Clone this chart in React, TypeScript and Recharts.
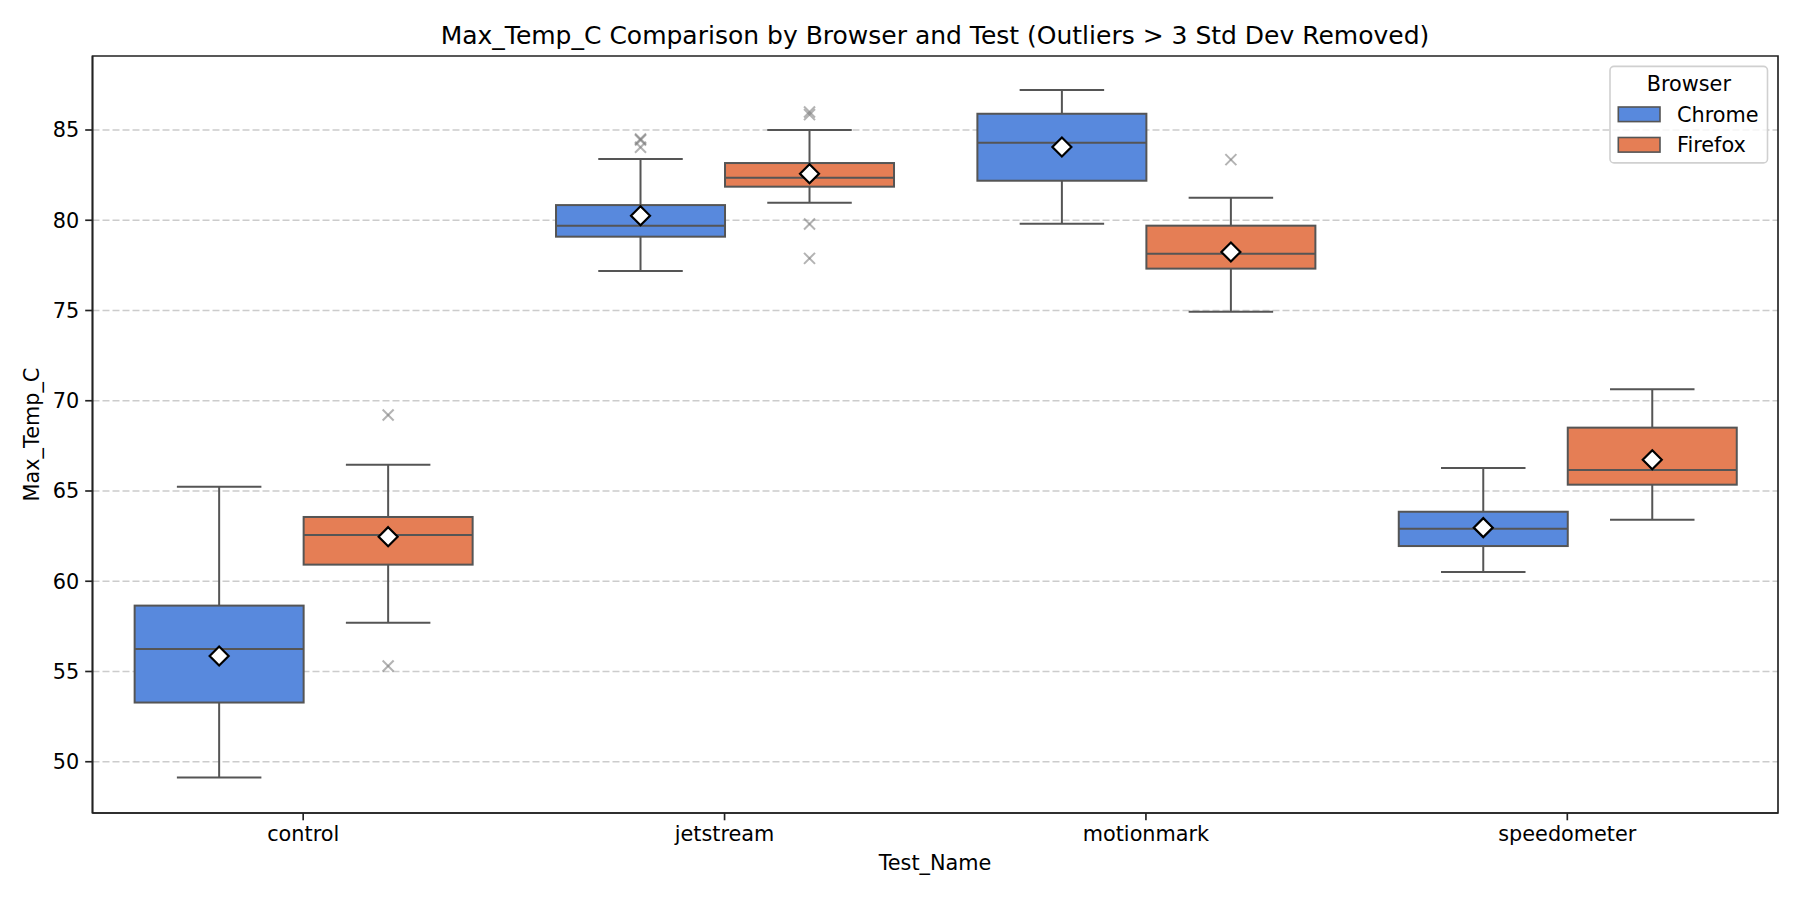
import React from 'react';
import { ComposedChart, Bar, XAxis, YAxis, CartesianGrid, ReferenceArea } from 'recharts';

const tests = ['control', 'jetstream', 'motionmark', 'speedometer'];
const browsers = ['Chrome', 'Firefox'];
const browserColors = ['#5889DD', '#E57E55'];

const chromeLow = [49.12, 77.19, 79.81, 60.51];
const chromeQ1 = [53.28, 79.09, 82.19, 61.95];
const chromeMedian = [56.25, 79.7, 84.3, 62.91];
const chromeQ3 = [58.65, 80.84, 85.9, 63.85];
const chromeHigh = [65.24, 83.39, 87.22, 66.27];
const chromeMean = [55.86, 80.25, 84.06, 62.97];
const chromeOutliers = [[], [84.5, 84.45, 84.04], [], []];

const firefoxLow = [57.7, 80.97, 74.93, 63.41];
const firefoxQ1 = [60.92, 81.86, 77.32, 65.35];
const firefoxMedian = [62.56, 82.36, 78.15, 66.16];
const firefoxQ3 = [63.56, 83.17, 79.7, 68.51];
const firefoxHigh = [66.46, 85.0, 81.25, 70.64];
const firefoxMean = [62.47, 82.58, 78.24, 66.73];
const firefoxOutliers = [[69.21, 55.3], [86.0, 85.85, 79.79, 77.89], [83.36], []];

const yTicks = [50, 55, 60, 65, 70, 75, 80, 85];
const yDomain = [47.16, 89.1];

const data = tests.map((t, i) => ({
  test: t,
  chrome: {
    lo: chromeLow[i], q1: chromeQ1[i], med: chromeMedian[i], q3: chromeQ3[i],
    hi: chromeHigh[i], mean: chromeMean[i], out: chromeOutliers[i],
  },
  firefox: {
    lo: firefoxLow[i], q1: firefoxQ1[i], med: firefoxMedian[i], q3: firefoxQ3[i],
    hi: firefoxHigh[i], mean: firefoxMean[i], out: firefoxOutliers[i],
  },
}));

const EDGE = '#555555';
const FONT = 'DejaVu Sans';
const FS = 20.8;

const makeBoxShape = (key: string, color: string) => (props: any) => {
  const { x, y, width, height, payload } = props;
  const s = payload[key];
  const top = Math.min(y, y + height);
  const bottom = Math.max(y, y + height);
  const px = (v: number) => bottom - ((bottom - top) * (v - s.lo)) / (s.hi - s.lo);
  const cx = x + width / 2;
  const capHalf = width / 4;
  const yq1 = px(s.q1);
  const yq3 = px(s.q3);
  const ym = px(s.mean);
  const d = 9.5;
  return (
    <g>
      <line x1={cx} x2={cx} y1={px(s.hi)} y2={yq3} stroke={EDGE} strokeWidth={2} />
      <line x1={cx} x2={cx} y1={yq1} y2={px(s.lo)} stroke={EDGE} strokeWidth={2} />
      <line x1={cx - capHalf} x2={cx + capHalf} y1={px(s.hi)} y2={px(s.hi)} stroke={EDGE} strokeWidth={2} />
      <line x1={cx - capHalf} x2={cx + capHalf} y1={px(s.lo)} y2={px(s.lo)} stroke={EDGE} strokeWidth={2} />
      <rect x={x} y={yq3} width={width} height={yq1 - yq3} fill={color} stroke={EDGE} strokeWidth={2} />
      <line x1={x} x2={x + width} y1={px(s.med)} y2={px(s.med)} stroke={EDGE} strokeWidth={2} />
      {s.out.map((o: number, k: number) => {
        const oy = px(o);
        const h = 5.5;
        return (
          <g key={k} stroke="#808080" strokeOpacity={0.6} strokeWidth={2}>
            <line x1={cx - h} x2={cx + h} y1={oy - h} y2={oy + h} />
            <line x1={cx - h} x2={cx + h} y1={oy + h} y2={oy - h} />
          </g>
        );
      })}
      <polygon
        points={`${cx},${ym - d} ${cx + d},${ym} ${cx},${ym + d} ${cx - d},${ym}`}
        fill="#ffffff"
        stroke="#000000"
        strokeWidth={2.2}
      />
    </g>
  );
};

export default function App() {
  const axisLine = { stroke: '#222222', strokeWidth: 1.67 };
  return (
    <div style={{ position: 'absolute', left: 0, top: 0, width: 1800, height: 900, background: '#fff' }}>
      <ComposedChart
        width={1800}
        height={900}
        data={data}
        margin={{ top: 56, right: 22, bottom: 47, left: 32.5 }}
        barCategoryGap="10%"
        barGap={0}
      >
        <CartesianGrid vertical={false} horizontalValues={yTicks} stroke="#cccccc" strokeWidth={1.4} strokeDasharray="7 3" />
        <XAxis
          dataKey="test"
          height={40}
          tickSize={7.3}
          tickMargin={6}
          axisLine={axisLine}
          tickLine={{ stroke: '#222222', strokeWidth: 1.67 }}
          tick={{ fill: '#000', fontSize: FS, fontFamily: FONT }}
          interval={0}
        />
        <YAxis
          type="number"
          domain={yDomain}
          ticks={yTicks}
          allowDataOverflow
          width={60}
          tickSize={7.3}
          tickMargin={6}
          axisLine={axisLine}
          tickLine={{ stroke: '#222222', strokeWidth: 1.67 }}
          tick={{ fill: '#000', fontSize: FS, fontFamily: FONT }}
        />
        <Bar
          dataKey={(d: any) => [d.chrome.lo, d.chrome.hi]}
          name={browsers[0]}
          fill={browserColors[0]}
          shape={makeBoxShape('chrome', browserColors[0])}
          isAnimationActive={false}
        />
        <Bar
          dataKey={(d: any) => [d.firefox.lo, d.firefox.hi]}
          name={browsers[1]}
          fill={browserColors[1]}
          shape={makeBoxShape('firefox', browserColors[1])}
          isAnimationActive={false}
        />
        <ReferenceArea
          y1={yDomain[0]}
          y2={yDomain[1]}
          fill="none"
          fillOpacity={0}
          stroke="#222222"
          strokeWidth={1.67}
          ifOverflow="visible"
        />
      </ComposedChart>
      <svg
        width={1800}
        height={900}
        style={{ position: 'absolute', left: 0, top: 0, pointerEvents: 'none' }}
        fontFamily={FONT}
      >
        <text x={935} y={43.5} textAnchor="middle" fontSize={25} fill="#000">
          Max_Temp_C Comparison by Browser and Test (Outliers &gt; 3 Std Dev Removed)
        </text>
        <text x={935} y={863} textAnchor="middle" dominantBaseline="central" fontSize={FS} fill="#000">
          Test_Name
        </text>
        <text
          x={32}
          y={434.5}
          textAnchor="middle"
          dominantBaseline="central"
          fontSize={FS}
          fill="#000"
          transform="rotate(-90 32 434.5)"
        >
          Max_Temp_C
        </text>
        <rect x={1610} y={66.4} width={157.5} height={96.5} rx={4} fill="#ffffff" fillOpacity={0.8} stroke="#d0d0d0" strokeWidth={1.6} />
        <text x={1688.8} y={84} textAnchor="middle" dominantBaseline="central" fontSize={FS} fill="#000">
          Browser
        </text>
        {browsers.map((b, i) => (
          <g key={b}>
            <rect x={1618.3} y={107 + i * 30.5} width={41.7} height={14.6} fill={browserColors[i]} stroke={EDGE} strokeWidth={1.6} />
            <text x={1677} y={114.5 + i * 30.5} dominantBaseline="central" fontSize={FS} fill="#000">
              {b}
            </text>
          </g>
        ))}
      </svg>
    </div>
  );
}
